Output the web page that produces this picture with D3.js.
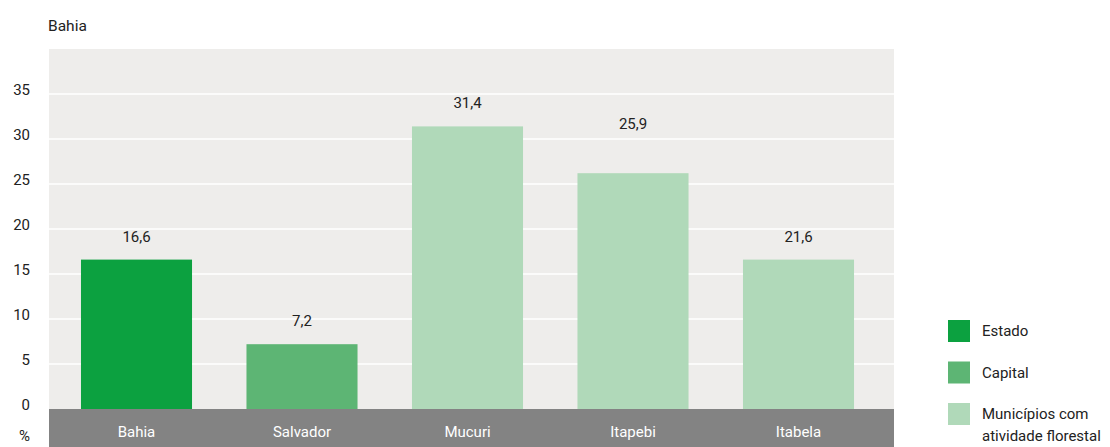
<!DOCTYPE html>
<html><head><meta charset="utf-8">
<script src="https://cdn.jsdelivr.net/npm/d3@7"></script>
<style>body{margin:0;background:#fff}svg{display:block}text{font-family:Roboto,"Open Sans",sans-serif}</style>
</head><body><svg id="c" width="1110" height="447"></svg>
<script>
const categories = ["Bahia", "Salvador", "Mucuri", "Itapebi", "Itabela"];
const groups = ["Estado", "Capital", "Municípios", "Municípios", "Municípios"];
const barValues = [16.6, 7.2, 31.4, 26.2, 16.6];
const valueLabels = ["16,6", "7,2", "31,4", "25,9", "21,6"];
const labelAt = [16.6, 7.2, 31.4, 29.1, 16.6];
const yTicks = [0, 5, 10, 15, 20, 25, 30, 35];
const legendItems = ["Estado", "Capital", "Municípios com|atividade florestal"];
const colors = {"Estado": "#0ca140", "Capital": "#5db574", "Municípios": "#b0d9b9"};
const legendColors = ["#0ca140", "#5db574", "#b0d9b9"];

const svg = d3.select("#c");
const L = 49, R = 894, T = 49, B = 409;
const y = d3.scaleLinear().domain([0, 40]).range([B, T]);
const x = d3.scaleBand().domain(categories).range([53.75, 881.25]).paddingInner(0.329).paddingOuter(0.1645);

svg.append("rect").attr("x", L).attr("y", T).attr("width", R - L).attr("height", B - T).attr("fill", "#eeedeb");
svg.selectAll("line.grid").data(yTicks.filter(d => d > 0)).join("line")
  .attr("x1", L).attr("x2", R).attr("y1", d => y(d)).attr("y2", d => y(d))
  .attr("stroke", "#fff").attr("stroke-width", 1.5);

svg.append("rect").attr("x", L).attr("y", B).attr("width", R - L).attr("height", 60).attr("fill", "#838383");

svg.selectAll("text.yt").data(yTicks).join("text")
  .attr("x", 30).attr("y", d => y(d) + 1).attr("text-anchor", "end")
  .attr("font-size", 15).attr("fill", "#222").text(d => d);
svg.append("text").attr("x", 30).attr("y", 441).attr("text-anchor", "end").attr("font-size", 15).attr("fill", "#222").text("%");
svg.append("text").attr("x", 48).attr("y", 31).attr("font-size", 15.5).attr("fill", "#222").text("Bahia");

svg.selectAll("rect.bar").data(categories).join("rect")
  .attr("x", d => x(d)).attr("width", x.bandwidth())
  .attr("y", (d, i) => y(barValues[i])).attr("height", (d, i) => B - y(barValues[i]))
  .attr("fill", (d, i) => colors[groups[i]]);

svg.selectAll("text.vl").data(categories).join("text")
  .attr("x", d => x(d) + x.bandwidth() / 2).attr("y", (d, i) => y(labelAt[i]) - 18)
  .attr("text-anchor", "middle").attr("font-size", 15).attr("fill", "#222")
  .text((d, i) => valueLabels[i]);

svg.selectAll("text.xl").data(categories).join("text")
  .attr("x", d => x(d) + x.bandwidth() / 2).attr("y", 437)
  .attr("text-anchor", "middle").attr("font-size", 15).attr("fill", "#fff").text(d => d);

const lg = svg.append("g");
legendItems.forEach((t, i) => {
  const yy = 320 + i * 41.5;
  lg.append("rect").attr("x", 948).attr("y", yy).attr("width", 22).attr("height", 22).attr("fill", legendColors[i]);
  const lines = t.split("|");
  lines.forEach((s, j) => {
    lg.append("text").attr("x", 982).attr("y", yy + 16 + j * 22).attr("font-size", 15).attr("fill", "#222").text(s);
  });
});
</script></body></html>
